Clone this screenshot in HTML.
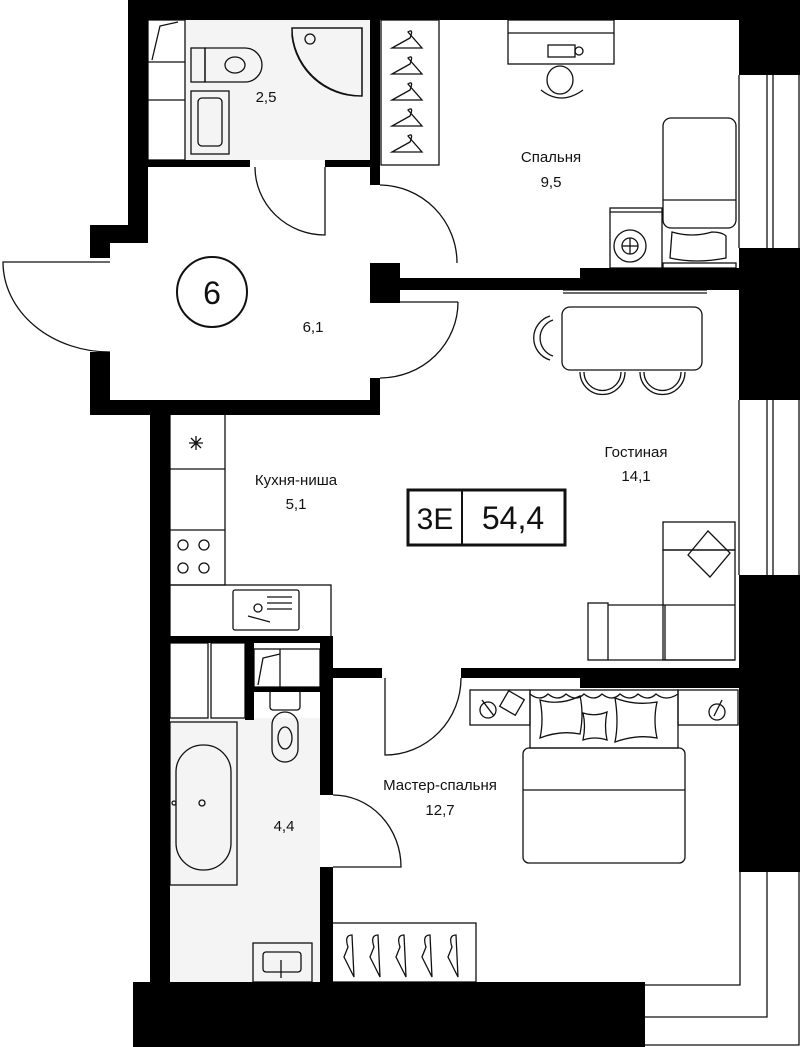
<!DOCTYPE html>
<html><head><meta charset="utf-8"><style>
html,body{margin:0;padding:0;background:#fff}
svg{display:block}
text{font-family:"Liberation Sans",sans-serif;fill:#111}
</style></head><body>
<svg width="800" height="1047" viewBox="0 0 800 1047" xmlns="http://www.w3.org/2000/svg">
<g fill="#f4f4f4" stroke="none">
<rect x="185" y="20" width="185" height="140"/>
<rect x="170" y="718" width="150" height="264"/>
</g>
<g fill="none" stroke="#111" stroke-width="1.3">
<!-- windows -->
<line x1="739" y1="75" x2="739" y2="248"/><line x1="767" y1="75" x2="767" y2="248"/><line x1="773" y1="75" x2="773" y2="248"/><line x1="799" y1="75" x2="799" y2="248"/>
<line x1="739" y1="400" x2="739" y2="575"/><line x1="767" y1="400" x2="767" y2="575"/><line x1="773" y1="400" x2="773" y2="575"/><line x1="799" y1="400" x2="799" y2="575"/>
<!-- balcony -->
<polyline points="645,985 740,985 740,872"/>
<polyline points="645,1017 767,1017 767,872"/>
<polyline points="645,1045 799,1045 799,872"/>
<!-- closet by bathroom -->
<rect x="148" y="20" width="37" height="140"/>
<line x1="148" y1="62" x2="185" y2="62"/><line x1="148" y1="100" x2="185" y2="100"/>
<polyline points="152,60 160,26 178,22"/>
<!-- bathroom 2.5 -->
<path d="M205,48 h40 a17,17 0 0 1 0,34 h-40 z"/><rect x="191" y="48" width="14" height="34"/>
<ellipse cx="235" cy="65" rx="10" ry="8"/>
<rect x="191" y="91" width="38" height="63"/><rect x="198" y="98" width="24" height="48" rx="4"/>
<path d="M292,28 h70 v68 a70,68 0 0 1 -70,-68 z" transform="translate(0,0)"/>
<path d="M292,28 h70 v68 h-2 a68,68 0 0 1 -68,-60 z" />
<circle cx="310" cy="39" r="5"/>
<!-- wardrobe spalnya -->
<rect x="381" y="20" width="58" height="145"/>
<g>
<path d="M408,32 q6,-4 2,6 l-18,10 h30 z"/>
<path d="M408,58 q6,-4 2,6 l-18,10 h30 z"/>
<path d="M408,84 q6,-4 2,6 l-18,10 h30 z"/>
<path d="M408,110 q6,-4 2,6 l-18,10 h30 z"/>
<path d="M408,136 q6,-4 2,6 l-18,10 h30 z"/>
</g>
<!-- desk -->
<rect x="508" y="20" width="106" height="44"/><line x1="508" y1="33" x2="614" y2="33"/>
<rect x="548" y="45" width="27" height="12"/><circle cx="579" cy="51" r="4"/>
<ellipse cx="560" cy="80" rx="13" ry="14"/><path d="M541,90 q20,16 42,0"/>
<!-- single bed -->
<rect x="663" y="118" width="73" height="110" rx="8"/><line x1="663" y1="200" x2="736" y2="200"/>
<path d="M672,232 q20,6 40,0 q10,0 14,4 v22 q-30,6 -56,0 z"/>
<rect x="663" y="263" width="73" height="5"/>
<rect x="610" y="208" width="52" height="60"/><line x1="610" y1="212" x2="662" y2="212"/>
<circle cx="630" cy="246" r="16"/><circle cx="630" cy="246" r="8"/><line x1="622" y1="246" x2="638" y2="246"/><line x1="630" y1="238" x2="630" y2="254"/>
<!-- doors -->
<path d="M380,185 a78,78 0 0 1 77,78"/>
<path d="M255,167 a70,68 0 0 0 70,68 V167"/>
<path d="M110,262 H3 a107,90 0 0 0 107,90"/>
<path d="M458,302 a78,76 0 0 1 -78,76"/>
<path d="M458,302 H380"/>
<path d="M461,678 a76,77 0 0 1 -76,77 V678"/>
<path d="M333,795 a68,72 0 0 1 68,72 H333"/>
<!-- dining -->
<line x1="563" y1="290" x2="707" y2="290"/><line x1="563" y1="293" x2="707" y2="293"/>
<rect x="562" y="307" width="140" height="63" rx="8"/>
<path d="M550,316 a23,23 0 0 0 0,44"/><path d="M553,320 a19,19 0 0 0 0,36"/>
<path d="M580,372 a22,22 0 0 0 45,0"/><path d="M584,372 a18,18 0 0 0 37,0"/>
<path d="M640,372 a22,22 0 0 0 45,0"/><path d="M644,372 a18,18 0 0 0 37,0"/>
<!-- kitchen -->
<rect x="170" y="413" width="55" height="172"/>
<line x1="170" y1="469" x2="225" y2="469"/><line x1="170" y1="530" x2="225" y2="530"/>
<circle cx="183" cy="545" r="5"/><circle cx="204" cy="545" r="5"/><circle cx="183" cy="568" r="5"/><circle cx="204" cy="568" r="5"/>
<rect x="170" y="585" width="161" height="53"/>
<rect x="233" y="590" width="66" height="40" rx="2"/>
<line x1="267" y1="597" x2="292" y2="597"/><line x1="267" y1="603" x2="292" y2="603"/><line x1="267" y1="609" x2="292" y2="609"/>
<circle cx="258" cy="608" r="4"/><line x1="248" y1="616" x2="270" y2="622"/>
<path d="M191,438 l10,10 M201,438 l-10,10 M196,436 v14 M189,443 h14"/>
<!-- sofa -->
<rect x="663" y="522" width="72" height="28"/>
<rect x="663" y="550" width="72" height="110"/>
<rect x="588" y="603" width="20" height="57"/>
<line x1="608" y1="605" x2="735" y2="605"/><line x1="608" y1="660" x2="735" y2="660"/><line x1="665" y1="605" x2="665" y2="660"/>
<path d="M688,555 l20,-24 l22,22 l-20,24 z"/>
<!-- closets by bath -->
<rect x="170" y="643" width="38" height="75"/><rect x="211" y="643" width="34" height="75"/>
<rect x="254" y="649" width="66" height="38"/><line x1="280" y1="649" x2="280" y2="687"/>
<polyline points="258,685 263,658 280,654"/>
<!-- bathroom 4.4 -->
<rect x="170" y="722" width="67" height="163"/>
<rect x="176" y="745" width="55" height="125" rx="27"/>
<circle cx="202" cy="803" r="3"/><circle cx="174" cy="803" r="2"/>
<rect x="270" y="690" width="30" height="20" rx="3"/>
<rect x="272" y="712" width="26" height="50" rx="13"/><ellipse cx="285" cy="738" rx="7" ry="11"/>
<rect x="253" y="943" width="59" height="39"/><rect x="263" y="952" width="38" height="20" rx="3"/><line x1="281" y1="960" x2="281" y2="978"/>
<!-- master bed -->
<rect x="530" y="690" width="148" height="58"/>
<path d="M530,694 q10,8 18,0 q10,8 18,0 q10,8 18,0 q10,8 18,0 q10,8 18,0 q10,8 18,0 q10,8 18,0 q10,8 22,0"/>
<path d="M540,700 q20,6 40,-4 q4,18 0,38 q-20,-4 -40,4 q4,-18 0,-38 z"/>
<path d="M615,698 q20,8 42,4 q-4,18 0,36 q-20,-4 -42,4 q4,-20 0,-44 z"/>
<path d="M583,713 q12,4 24,-1 q-3,14 0,28 q-12,-4 -24,0 q3,-14 0,-27 z"/>
<rect x="523" y="748" width="162" height="115" rx="6"/><line x1="523" y1="790" x2="685" y2="790"/>
<rect x="470" y="690" width="60" height="35"/><rect x="678" y="690" width="60" height="35"/>
<circle cx="488" cy="710" r="8"/><line x1="482" y1="700" x2="494" y2="716"/>
<rect x="503" y="694" width="18" height="18" transform="rotate(30 512 703)"/>
<circle cx="717" cy="712" r="8"/><line x1="722" y1="700" x2="714" y2="716"/>
<!-- master wardrobe -->
<rect x="331" y="923" width="145" height="59"/>
<g>
<path d="M352,935 q-8,0 -4,12 l-4,10 l10,20 z"/>
<path d="M378,935 q-8,0 -4,12 l-4,10 l10,20 z"/>
<path d="M404,935 q-8,0 -4,12 l-4,10 l10,20 z"/>
<path d="M430,935 q-8,0 -4,12 l-4,10 l10,20 z"/>
<path d="M456,935 q-8,0 -4,12 l-4,10 l10,20 z"/>
</g>
<!-- circle 6 and box -->
<circle cx="212" cy="292" r="35" stroke-width="2"/>
<rect x="408" y="490" width="157" height="55" stroke-width="3"/>
<line x1="462" y1="490" x2="462" y2="545" stroke-width="2"/>
</g>
<!-- walls -->
<g fill="#000">
<rect x="128" y="0" width="672" height="20"/>
<rect x="128" y="0" width="20" height="243"/>
<rect x="90" y="225" width="58" height="18"/>
<rect x="90" y="225" width="20" height="33"/>
<rect x="90" y="352" width="20" height="63"/>
<rect x="90" y="400" width="290" height="15"/>
<rect x="148" y="160" width="102" height="7"/>
<rect x="325" y="160" width="55" height="7"/>
<rect x="370" y="20" width="10" height="165"/>
<rect x="370" y="263" width="30" height="40"/>
<rect x="370" y="378" width="10" height="37"/>
<rect x="380" y="278" width="360" height="12"/>
<rect x="580" y="268" width="160" height="22"/>
<rect x="739" y="0" width="61" height="75"/>
<rect x="739" y="248" width="61" height="152"/>
<rect x="739" y="575" width="61" height="297"/>
<rect x="150" y="400" width="20" height="582"/>
<rect x="170" y="636" width="163" height="7"/>
<rect x="245" y="643" width="9" height="77"/>
<rect x="254" y="687" width="66" height="5"/>
<rect x="320" y="636" width="13" height="159"/>
<rect x="320" y="867" width="13" height="115"/>
<rect x="320" y="668" width="62" height="10"/>
<rect x="461" y="668" width="279" height="10"/>
<rect x="580" y="668" width="160" height="20"/>
<rect x="133" y="982" width="512" height="65"/>
</g>
<g font-size="15" text-anchor="middle">
<text x="266" y="102">2,5</text>
<text x="551" y="162">Спальня</text><text x="551" y="187">9,5</text>
<text x="313" y="332">6,1</text>
<text x="296" y="485">Кухня-ниша</text><text x="296" y="509">5,1</text>
<text x="636" y="457">Гостиная</text><text x="636" y="481">14,1</text>
<text x="440" y="790">Мастер-спальня</text><text x="440" y="815">12,7</text>
<text x="284" y="831">4,4</text>
<text x="212" y="304" font-size="32">6</text>
<text x="435" y="529" font-size="30">3E</text>
<text x="513" y="529" font-size="32">54,4</text>
</g>
</svg>
</body></html>
